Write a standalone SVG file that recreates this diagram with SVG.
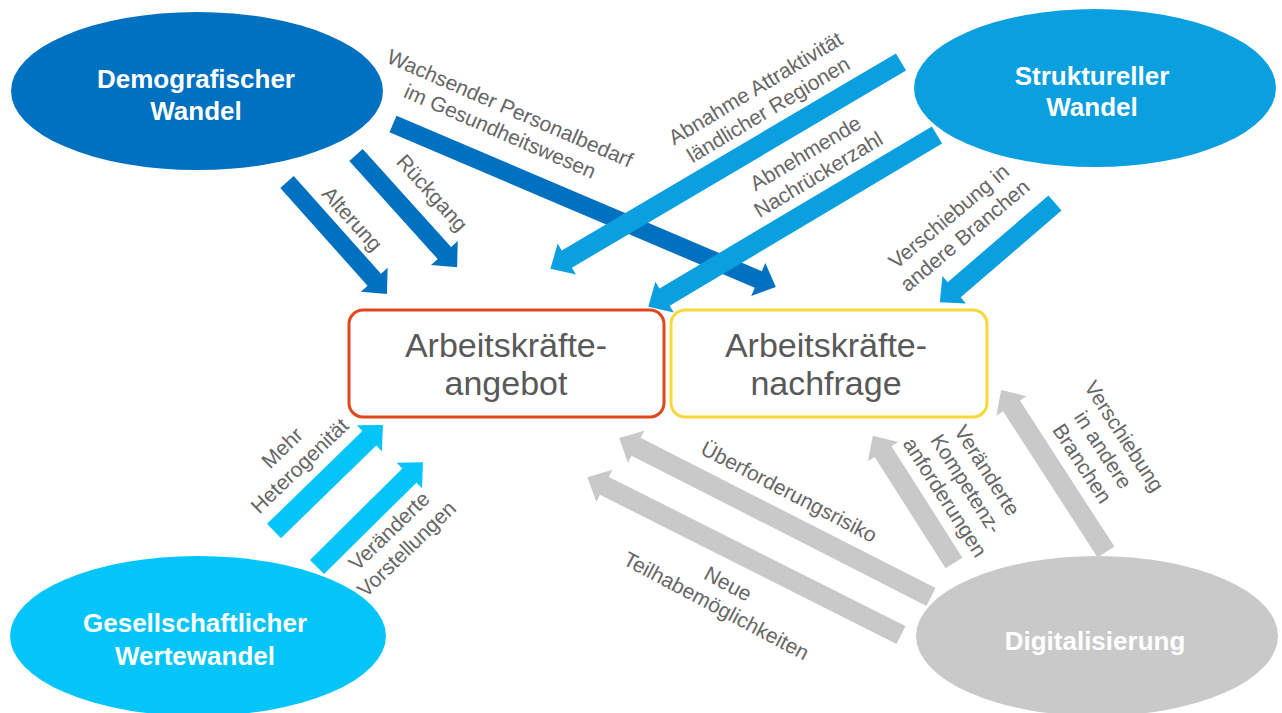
<svg xmlns="http://www.w3.org/2000/svg" width="1282" height="713" viewBox="0 0 1282 713">
<style>
.ell-t{font-family:"Liberation Sans",Arial,sans-serif;font-weight:bold;font-size:26px;fill:#fff;text-anchor:middle}
.box-t{font-family:"Liberation Sans",Arial,sans-serif;font-size:34px;fill:#595959;text-anchor:middle}
.lbl{font-family:"Liberation Sans",Arial,sans-serif;font-size:21px;fill:#666;text-anchor:middle}
.dk{fill:#0070C0}.lt{fill:#0A9FDF}.cy{fill:#03C5F9}.gr{fill:#C9C9C9}
</style>
<rect width="1282" height="713" fill="#fff"/>
<g id="node-demografisch">
<ellipse cx="197" cy="91" rx="186" ry="79" class="dk"/>
<text class="ell-t" x="196" y="88">Demografischer</text>
<text class="ell-t" x="196" y="120">Wandel</text>
</g>
<g id="node-strukturell">
<ellipse cx="1095" cy="88" rx="181" ry="79" class="lt"/>
<text class="ell-t" x="1092" y="85">Struktureller</text>
<text class="ell-t" x="1092" y="116">Wandel</text>
</g>
<g id="node-gesellschaft">
<ellipse cx="198" cy="636" rx="188" ry="80" class="cy"/>
<text class="ell-t" x="195" y="632">Gesellschaftlicher</text>
<text class="ell-t" x="195" y="665">Wertewandel</text>
</g>
<g id="node-digital">
<ellipse cx="1097" cy="636" rx="181" ry="80" class="gr"/>
<text class="ell-t" x="1095" y="650">Digitalisierung</text>
</g>
<g id="node-angebot">
<rect x="349" y="310" width="315" height="107" rx="14" fill="#fff" stroke="#E0481B" stroke-width="3"/>
<text class="box-t" x="506" y="357">Arbeitskräfte-</text>
<text class="box-t" x="506" y="395">angebot</text>
</g>
<g id="node-nachfrage">
<rect x="671" y="310" width="316" height="107" rx="14" fill="#fff" stroke="#F8D838" stroke-width="3"/>
<text class="box-t" x="826" y="357">Arbeitskräfte-</text>
<text class="box-t" x="826" y="395">nachfrage</text>
</g>
<g id="connectors">
<polygon class="dk" transform="translate(287,182) rotate(48.24)" points="0,-9 131,-9 131,-18 150,0 131,18 131,9 0,9"/>
<polygon class="dk" transform="translate(356,155) rotate(47.96)" points="0,-9 132,-9 132,-18 151,0 132,18 132,9 0,9"/>
<polygon class="dk" transform="translate(393,124) rotate(23.05)" points="0,-9 397,-9 397,-18 416,0 397,18 397,9 0,9"/>
<polygon class="lt" transform="translate(901,62) rotate(149.47)" points="0,-10 388,-10 388,-18 407,0 388,18 388,10 0,10"/>
<polygon class="lt" transform="translate(937,135) rotate(149.24)" points="0,-10 317,-10 317,-18 336,0 317,18 317,10 0,10"/>
<polygon class="lt" transform="translate(1055,203) rotate(139.28)" points="0,-10 133,-10 133,-18 152,0 133,18 133,10 0,10"/>
<polygon class="cy" transform="translate(274,531) rotate(-44.2)" points="0,-10 133,-10 133,-18 152,0 133,18 133,10 0,10"/>
<polygon class="cy" transform="translate(317,567) rotate(-44.7)" points="0,-10 130,-10 130,-18 149,0 130,18 130,10 0,10"/>
<polygon class="gr" transform="translate(931,597) rotate(-153)" points="0,-10 331,-10 331,-18 350,0 331,18 331,10 0,10"/>
<polygon class="gr" transform="translate(901,635) rotate(-153.3)" points="0,-10 332,-10 332,-18 351,0 332,18 332,10 0,10"/>
<polygon class="gr" transform="translate(954,563) rotate(-122.5)" points="0,-10 132,-10 132,-18 151,0 132,18 132,10 0,10"/>
<polygon class="gr" transform="translate(1106,552) rotate(-122.9)" points="0,-10 174,-10 174,-18 193,0 174,18 174,10 0,10"/>
</g>
<g id="labels">
<text class="lbl" transform="translate(505,120) rotate(23.5)"><tspan x="0" y="-5.5">Wachsender Personalbedarf</tspan><tspan x="0" y="19.5">im Gesundheitswesen</tspan></text>
<text class="lbl" transform="translate(352,219) rotate(48)"><tspan x="0" y="7">Alterung</tspan></text>
<text class="lbl" transform="translate(432,193) rotate(48)"><tspan x="0" y="7">Rückgang</tspan></text>
<text class="lbl" transform="translate(762,99) rotate(-31)"><tspan x="0" y="-5.5">Abnahme Attraktivität</tspan><tspan x="0" y="19.5">ländlicher Regionen</tspan></text>
<text class="lbl" transform="translate(812,164) rotate(-31)"><tspan x="0" y="-5.5">Abnehmende</tspan><tspan x="0" y="19.5">Nachrückerzahl</tspan></text>
<text class="lbl" transform="translate(957,226) rotate(-40)"><tspan x="0" y="-5.5">Verschiebung in</tspan><tspan x="0" y="19.5">andere Branchen</tspan></text>
<text class="lbl" transform="translate(291,457) rotate(-44)"><tspan x="0" y="-5.5">Mehr</tspan><tspan x="0" y="19.5">Heterogenität</tspan></text>
<text class="lbl" transform="translate(398,540) rotate(-44)"><tspan x="0" y="-5.5">Veränderte</tspan><tspan x="0" y="19.5">Vorstellungen</tspan></text>
<text class="lbl" transform="translate(789,492) rotate(27.5)"><tspan x="0" y="7">Überforderungsrisiko</tspan></text>
<text class="lbl" transform="translate(722,595) rotate(28)"><tspan x="0" y="-5.5">Neue</tspan><tspan x="0" y="19.5">Teilhabemöglichkeiten</tspan></text>
<text class="lbl" transform="translate(966,484) rotate(57.5)"><tspan x="0" y="-18">Veränderte</tspan><tspan x="0" y="7">Kompetenz-</tspan><tspan x="0" y="32">anforderungen</tspan></text>
<text class="lbl" transform="translate(1103,450) rotate(57)"><tspan x="0" y="-18">Verschiebung</tspan><tspan x="0" y="7">in andere</tspan><tspan x="0" y="32">Branchen</tspan></text>
</g>
</svg>
